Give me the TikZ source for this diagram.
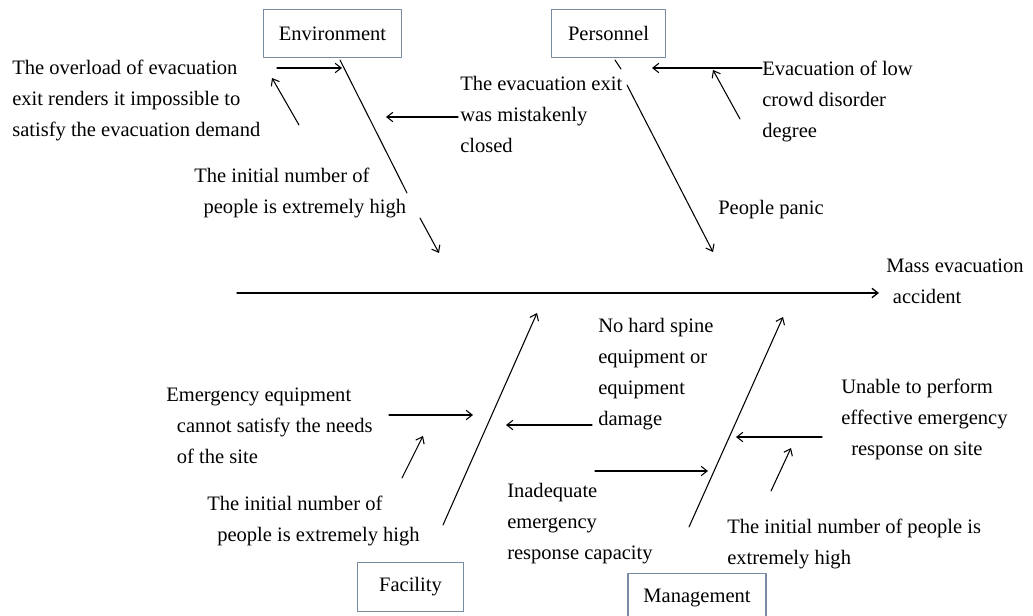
\documentclass[tikz,border=0pt]{standalone}
\usepackage{fontspec}
\setmainfont{Liberation Serif}
\usetikzlibrary{arrows.meta}
\definecolor{boxline}{RGB}{118,138,160}
\tikzset{
  cause/.style={anchor=north west, inner sep=0pt, align=left},
  category/.style={draw=boxline, line width=0.8pt, inner sep=0pt, minimum height=36.5pt},
  bone/.style={line width=0.8pt},
}
\begin{document}
\begin{tikzpicture}[>={Straight Barb[length=4.5pt,width=7pt]}, line join=round, line cap=round, x=0.75pt, y=-0.75pt, font=\fontsize{15.4}{23.25}\selectfont]
	\useasboundingbox (0,0) rectangle (1033,616);
	% categories
	\node[category, minimum width=104pt] (env) at (332.5,33.5) {Environment};
	\node[category, minimum width=86pt] (pers) at (608.5,33.5) {Personnel};
	\node[category, minimum width=80pt] (fac) at (410.5,587) {Facility};
	\node[category, minimum width=103.5pt] (mgmt) at (697,598) {Management};
	% spine
	\node[cause] (acc) at (886,259) {Mass evacuation\\\hspace*{5pt}accident};
	\coordinate (tail) at (237,293); \coordinate (head) at (879,293);
	\draw[->, line width=1pt] (tail) -- (head);
	% environment
	\coordinate (e0) at (340,60); \coordinate (e1) at (407,193);
	\coordinate (e2) at (420,218); \coordinate (e3) at (439,253);
	\draw[bone] (e0) -- (e1);
	\draw[bone,->] (e2) -- (e3);
	\node[cause] (overload) at (12,60) {The overload of evacuation\\exit renders it impossible to\\satisfy the evacuation demand};
	\coordinate (ov0) at (277,68); \coordinate (ov1) at (342,68);
	\draw[bone,->] (ov0) -- (ov1);
	\coordinate (ov2) at (299,125); \coordinate (ov3) at (272,78);
	\draw[bone,->] (ov2) -- (ov3);
	\node[cause] (envinit) at (194,168) {The initial number of\\\hspace*{7pt}people is extremely high};
	\node[cause] (closed) at (460,76) {The evacuation exit\\was mistakenly\\closed};
	\coordinate (cl0) at (458,117); \coordinate (cl1) at (386,117);
	\draw[bone,->] (cl0) -- (cl1);
	% personnel
	\coordinate (p0) at (615,60); \coordinate (p1) at (621,69);
	\coordinate (p2) at (627,85); \coordinate (p3) at (713,252);
	\draw[bone] (p0) -- (p1);
	\draw[bone,->] (p2) -- (p3);
	\node[cause] (lowcrowd) at (762,61) {Evacuation of low\\crowd disorder\\degree};
	\coordinate (lc0) at (762,68); \coordinate (lc1) at (652,68);
	\draw[bone,->] (lc0) -- (lc1);
	\coordinate (lc2) at (740,119); \coordinate (lc3) at (713,70);
	\draw[bone,->] (lc2) -- (lc3);
	\node[cause] (panic) at (718,200) {People panic};
	% facility
	\coordinate (f0) at (443,525); \coordinate (f1) at (537,313);
	\draw[bone,->] (f0) -- (f1);
	\node[cause] (equip) at (166,388) {Emergency equipment\\\hspace*{8pt}cannot satisfy the needs\\\hspace*{8pt}of the site};
	\coordinate (eq0) at (389,415); \coordinate (eq1) at (473,415);
	\draw[bone,->] (eq0) -- (eq1);
	\coordinate (eq2) at (402,478); \coordinate (eq3) at (423,436);
	\draw[bone,->] (eq2) -- (eq3);
	\node[cause] (facinit) at (207,496) {The initial number of\\\hspace*{7.5pt}people is extremely high};
	\node[cause] (spine) at (598,318) {No hard spine\\equipment or\\equipment\\damage};
	\coordinate (sp0) at (592,425); \coordinate (sp1) at (506,425);
	\draw[bone,->] (sp0) -- (sp1);
	% management
	\coordinate (m0) at (689,527); \coordinate (m1) at (783,317);
	\draw[bone,->] (m0) -- (m1);
	\node[cause] (capacity) at (507,483) {Inadequate\\emergency\\response capacity};
	\coordinate (ca0) at (595,471); \coordinate (ca1) at (708,471);
	\draw[bone,->] (ca0) -- (ca1);
	\node[cause] (unable) at (841,379) {Unable to perform\\effective emergency\\\hspace*{7.5pt}response on site};
	\coordinate (un0) at (822,437); \coordinate (un1) at (736,437);
	\draw[bone,->] (un0) -- (un1);
	\coordinate (un2) at (771,491); \coordinate (un3) at (791,448);
	\draw[bone,->] (un2) -- (un3);
	\node[cause] (mgmtinit) at (727,519) {The initial number of people is\\extremely high};
\end{tikzpicture}
\end{document}
